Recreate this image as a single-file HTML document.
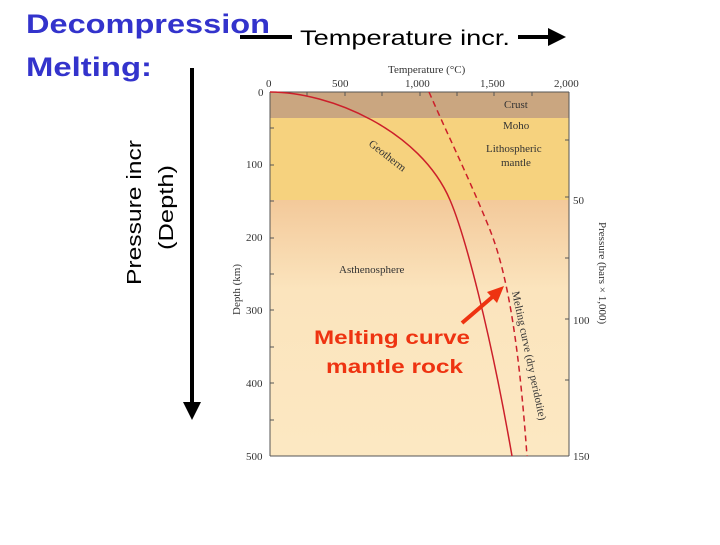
<!DOCTYPE html>
<html><head><meta charset="utf-8"><style>
body{margin:0;width:720px;height:540px;background:#fff;overflow:hidden;font-family:"Liberation Sans",sans-serif}
</style></head><body>
<svg width="720" height="540" viewBox="0 0 720 540" xmlns="http://www.w3.org/2000/svg">
<defs>
<linearGradient id="g" x1="0" y1="0" x2="0" y2="1">
<stop offset="0" stop-color="#f3c99a"/><stop offset="0.35" stop-color="#fbe4bd"/><stop offset="1" stop-color="#fce8c2"/>
</linearGradient>
</defs>
<text x="26" y="33" font-size="27" font-weight="bold" fill="#3333cc" textLength="244" lengthAdjust="spacingAndGlyphs">Decompression</text>
<text x="26" y="76" font-size="27" font-weight="bold" fill="#3333cc" textLength="126" lengthAdjust="spacingAndGlyphs">Melting:</text>
<line x1="240" y1="37" x2="292" y2="37" stroke="#000" stroke-width="4"/>
<text x="300" y="45" font-size="21" fill="#000" textLength="210" lengthAdjust="spacingAndGlyphs">Temperature incr.</text>
<line x1="518" y1="37" x2="552" y2="37" stroke="#000" stroke-width="4"/>
<polygon points="548,28 566,37 548,46" fill="#000"/>
<text transform="translate(141,285) rotate(-90)" font-size="20" fill="#000" textLength="145" lengthAdjust="spacingAndGlyphs">Pressure incr</text>
<text transform="translate(173,250) rotate(-90)" font-size="20" fill="#000" textLength="85" lengthAdjust="spacingAndGlyphs">(Depth)</text>
<line x1="192" y1="68" x2="192" y2="404" stroke="#000" stroke-width="4"/>
<polygon points="183,402 192,420 201,402" fill="#000"/>

<rect x="270" y="200" width="299" height="256" fill="url(#g)"/>
<rect x="270" y="118" width="299" height="82" fill="#f6d27e"/>
<rect x="270" y="92" width="299" height="26" fill="#caa680"/>
<line x1="270" y1="92" x2="270" y2="456" stroke="#555" stroke-width="1"/>
<line x1="270" y1="456" x2="569" y2="456" stroke="#555" stroke-width="1"/>
<line x1="270" y1="92" x2="569" y2="92" stroke="#555" stroke-width="1"/>
<line x1="569" y1="92" x2="569" y2="456" stroke="#555" stroke-width="1"/>
<g stroke="#555" stroke-width="1">
<line x1="307" y1="92" x2="307" y2="96"/><line x1="345" y1="92" x2="345" y2="96"/><line x1="382" y1="92" x2="382" y2="96"/><line x1="420" y1="92" x2="420" y2="96"/><line x1="457" y1="92" x2="457" y2="96"/><line x1="494" y1="92" x2="494" y2="96"/><line x1="532" y1="92" x2="532" y2="96"/>
<line x1="270" y1="128" x2="274" y2="128"/><line x1="270" y1="165" x2="274" y2="165"/><line x1="270" y1="201" x2="274" y2="201"/><line x1="270" y1="238" x2="274" y2="238"/><line x1="270" y1="274" x2="274" y2="274"/><line x1="270" y1="310" x2="274" y2="310"/><line x1="270" y1="347" x2="274" y2="347"/><line x1="270" y1="383" x2="274" y2="383"/><line x1="270" y1="420" x2="274" y2="420"/>
<line x1="565" y1="140" x2="569" y2="140"/><line x1="565" y1="197" x2="569" y2="197"/><line x1="565" y1="258" x2="569" y2="258"/><line x1="565" y1="319" x2="569" y2="319"/><line x1="565" y1="380" x2="569" y2="380"/>
</g>
<g font-family="Liberation Serif,serif" font-size="11" fill="#333">
<text x="388" y="73">Temperature (°C)</text>
<text x="266" y="87">0</text><text x="332" y="87">500</text><text x="405" y="87">1,000</text><text x="480" y="87">1,500</text><text x="554" y="87">2,000</text>
<text x="258" y="96">0</text><text x="246" y="168">100</text><text x="246" y="241">200</text><text x="246" y="314">300</text><text x="246" y="387">400</text><text x="246" y="460">500</text>
<text x="573" y="204">50</text><text x="573" y="324">100</text><text x="573" y="460">150</text>
<text transform="translate(240,315) rotate(-90)">Depth (km)</text>
<text transform="translate(599,222) rotate(90)">Pressure (bars × 1,000)</text>
<text x="504" y="108">Crust</text><text x="503" y="129">Moho</text>
<text x="486" y="152">Lithospheric</text><text x="501" y="166">mantle</text>
<text x="339" y="273">Asthenosphere</text>
<text transform="translate(368,145) rotate(38)">Geotherm</text>
<text transform="translate(512,292) rotate(78)">Melting curve (dry peridotite)</text>
</g>
<path d="M270,92 C330,92 420,130 450,200 C465,235 490,330 512,456" fill="none" stroke="#cc1f2a" stroke-width="1.5"/>
<path d="M429,92 C450,140 470,180 490,230 C510,280 520,360 527,456" fill="none" stroke="#cc1f2a" stroke-width="1.5" stroke-dasharray="6,4"/>
<line x1="462" y1="323" x2="497" y2="293" stroke="#ee3311" stroke-width="4"/>
<polygon points="504,286 487,292 497,303" fill="#ee3311"/>
<text x="314" y="344" font-size="19" font-weight="bold" fill="#ee3311" textLength="156" lengthAdjust="spacingAndGlyphs">Melting curve</text>
<text x="326" y="373" font-size="19" font-weight="bold" fill="#ee3311" textLength="137" lengthAdjust="spacingAndGlyphs">mantle rock</text>
</svg>
</body></html>
